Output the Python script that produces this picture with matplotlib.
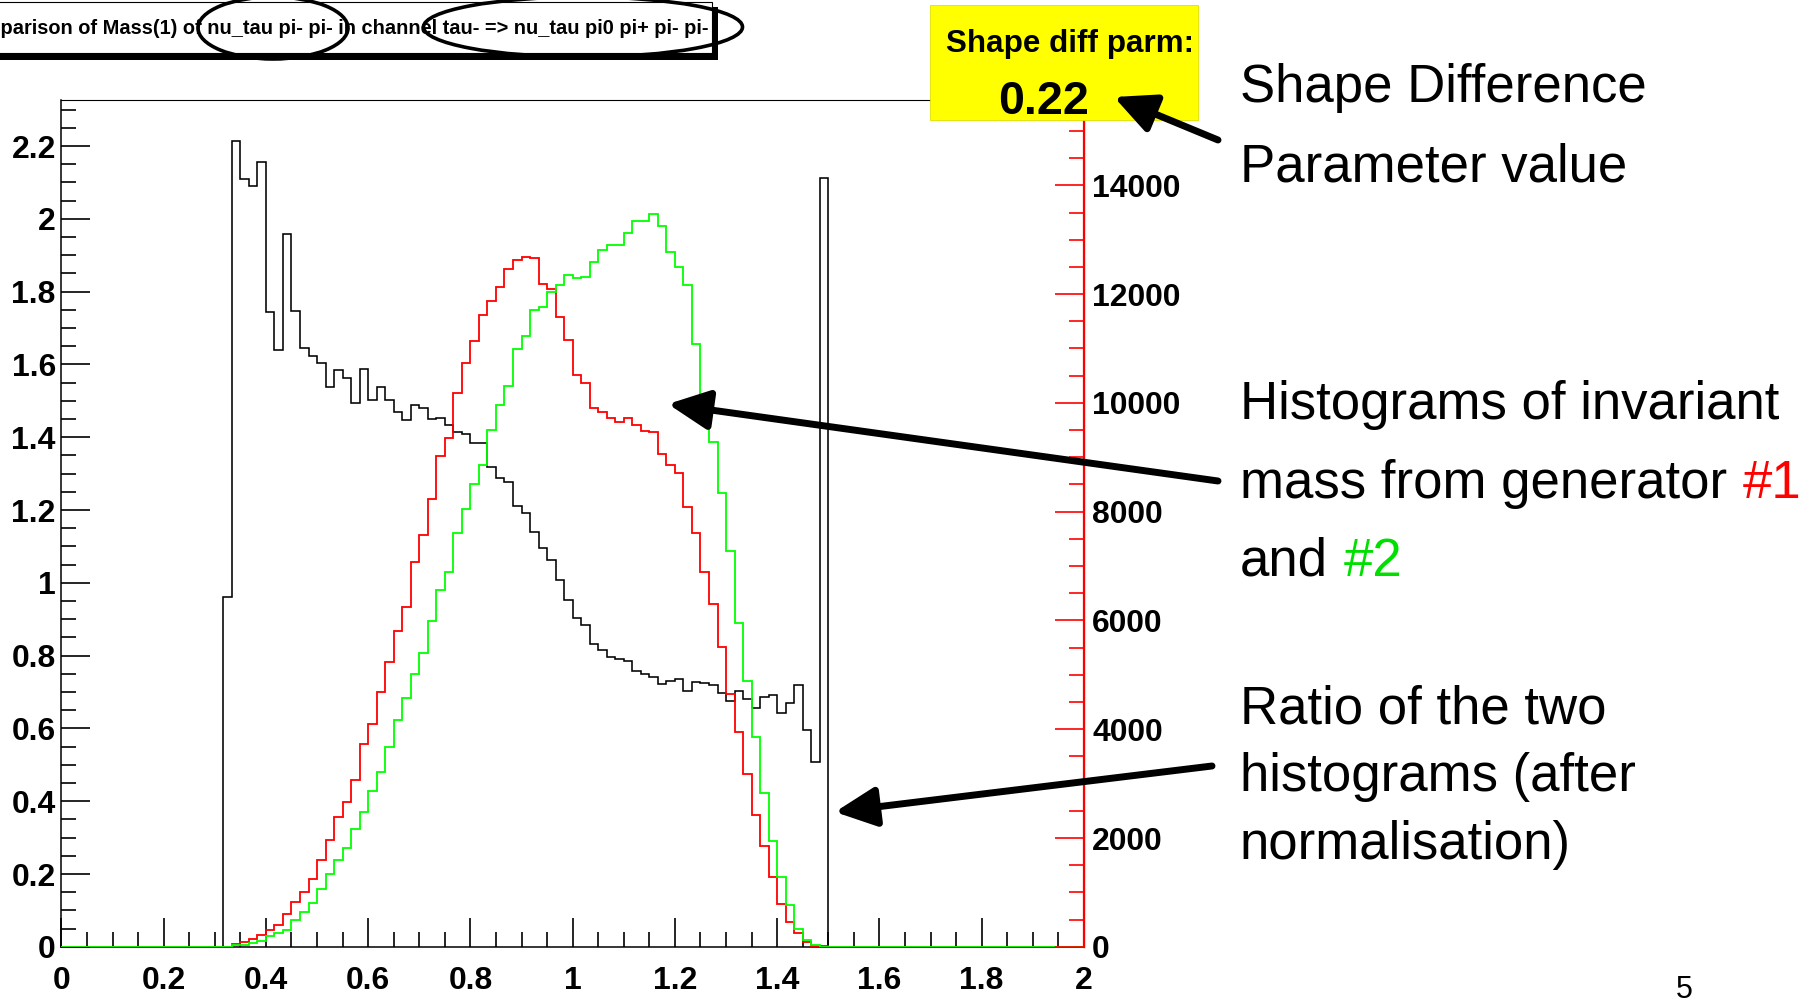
import numpy as np
import matplotlib
matplotlib.use('Agg')
import matplotlib.pyplot as plt
from matplotlib import font_manager
from matplotlib.patches import Ellipse, Rectangle, FancyArrowPatch, ArrowStyle
from matplotlib.ticker import MultipleLocator, FixedLocator, FuncFormatter

# 120 bins from 0 to 2, values below start at bin 19 (x = 0.3167), rest empty
n_bins = 120
first_bin = 19

# ratio of the two normalised histograms (left axis)
ratio = [0.960,
         2.214, 2.109, 2.089, 2.156, 1.745, 1.640, 1.959, 1.748, 1.644, 1.622,
         1.605, 1.539, 1.585, 1.562, 1.494, 1.588, 1.503, 1.537, 1.503, 1.469,
         1.446, 1.488, 1.480, 1.449, 1.452, 1.433, 1.414, 1.410, 1.385, 1.385,
         1.319, 1.289, 1.277, 1.210, 1.191, 1.141, 1.095, 1.063, 1.008, 0.953,
         0.903, 0.883, 0.832, 0.816, 0.796, 0.791, 0.786, 0.759, 0.750, 0.741,
         0.721, 0.730, 0.737, 0.704, 0.728, 0.724, 0.719, 0.697, 0.676, 0.704,
         0.681, 0.655, 0.687, 0.692, 0.642, 0.671, 0.719, 0.596, 0.507, 2.111]

# generator #1 (red), entries per bin (right axis)
gen1 = [5,
        51, 94, 137, 217, 309, 401, 597, 830, 1013, 1247,
        1596, 1964, 2392, 2668, 3067, 3729, 4096, 4679, 5242, 5806,
        6253, 7075, 7578, 8237, 9024, 9363, 10177, 10740, 11135, 11616,
        11870, 12128, 12456, 12620, 12683, 12664, 12192, 12098, 11573, 11163,
        10506, 10360, 9910, 9839, 9717, 9655, 9717, 9594, 9484, 9460,
        9061, 8858, 8705, 8092, 7602, 6897, 6300, 5518, 4648, 3955,
        3177, 2423, 1853, 1278, 787, 461, 259, 90, 20, 8]

# generator #2 (green)
gen2 = [5,
        24, 40, 64, 100, 195, 260, 312, 485, 640, 805,
        1055, 1340, 1596, 1822, 2160, 2473, 2870, 3208, 3679, 4170,
        4569, 5016, 5396, 5990, 6555, 6890, 7610, 8044, 8509, 8853,
        9502, 9962, 10311, 10991, 11230, 11708, 11758, 12045, 12168, 12352,
        12291, 12321, 12596, 12811, 12903, 12903, 13118, 13336, 13341, 13469,
        13259, 12780, 12493, 12168, 11083, 10084, 9276, 8338, 7283, 5955,
        4892, 3863, 2833, 1951, 1278, 769, 322, 130, 35, 4]

title = 'Comparison of Mass(1) of nu_tau pi- pi- in channel tau- => nu_tau pi0 pi+ pi- pi-'
shape_label = 'Shape diff parm:'
shape_value = '0.22'


def full(vals):
    out = np.zeros(n_bins)
    out[first_bin:first_bin + len(vals)] = vals
    return out


edges = np.linspace(0, 2, n_bins + 1)

names = {f.name for f in font_manager.fontManager.ttflist}
if 'Liberation Sans Narrow' in names:
    root_font, k = 'Liberation Sans Narrow', 1.0
else:
    root_font, k = 'Liberation Sans', 0.82
plt.rcParams['font.family'] = [root_font, 'DejaVu Sans']
plt.rcParams['font.weight'] = 'bold'

W, H = 1806, 1002
fig = plt.figure(figsize=(W / 100, H / 100), dpi=100)
fig.patch.set_facecolor('white')

x0, x1, y0, y1 = 61.4, 1083.9, 946.8, 100.2
ax = fig.add_axes([x0 / W, 1 - y0 / H, (x1 - x0) / W, (y0 - y1) / H])
ax.stairs(full(ratio), edges, color='black', lw=1.15)
ax.set_xlim(0, 2)
ax.set_ylim(0, 2.326)

fmt = FuncFormatter(lambda v, p: f'{v:g}')
ax.xaxis.set_major_locator(MultipleLocator(0.2))
ax.xaxis.set_minor_locator(MultipleLocator(0.05))
ax.yaxis.set_major_locator(MultipleLocator(0.2))
ax.yaxis.set_minor_locator(MultipleLocator(0.05))
ax.xaxis.set_major_formatter(fmt)
ax.yaxis.set_major_formatter(fmt)
ax.tick_params(which='both', direction='in', top=False, right=False,
               width=1.2, color='black')
ax.tick_params(which='major', length=21, labelsize=28 * k)
ax.tick_params(which='minor', length=10.5)
ax.tick_params(axis='x', which='major', pad=14)
ax.tick_params(axis='y', which='major', pad=4)
for s in ['left', 'bottom']:
    ax.spines[s].set_linewidth(1.1)
ax.spines['top'].set_linewidth(0.8)
ax.spines['right'].set_linewidth(0.8)

ax2 = ax.twinx()
ax2.stairs(full(gen1), edges, color='#ff0000', lw=1.3)
ax2.stairs(full(gen2), edges, color='#00ff00', lw=1.3)
ax2.set_ylim(0, 15565)
ax2.yaxis.set_major_locator(MultipleLocator(2000))
ax2.yaxis.set_minor_locator(FixedLocator(np.arange(0, 15001, 500)))
ax2.yaxis.set_major_formatter(fmt)
ax2.tick_params(which='both', direction='in', color='#ff0000', width=1.2,
                labelcolor='black')
ax2.tick_params(which='major', length=21, labelsize=28 * k, pad=6)
ax2.tick_params(which='minor', length=10.5)
for s in ['left', 'top', 'bottom']:
    ax2.spines[s].set_visible(False)
ax2.spines['right'].set_color('#ff0000')
ax2.spines['right'].set_linewidth(1.6)
ax2.spines['right'].set_bounds(0, 15200)

# overlay in pixel coordinates for the slide annotations
ov = fig.add_axes([0, 0, 1, 1], zorder=10)
ov.set_xlim(0, W)
ov.set_ylim(H, 0)
ov.axis('off')
ov.patch.set_alpha(0)

# title pave with shadow (its left part runs off the slide, as in the original)
ov.add_patch(Rectangle((-4, 7), 722, 53, facecolor='black', edgecolor='none'))
ov.add_patch(Rectangle((-10, 2), 722, 51, facecolor='white', edgecolor='black', lw=0.8))
ov.text(709, 28, title, ha='right', va='center', fontsize=17.6 * k,
        fontweight='bold', color='black')
ov.add_patch(Ellipse((273, 28), 150, 62, fill=False, edgecolor='black', lw=2.6))
ov.add_patch(Ellipse((583, 27), 319, 60, fill=False, edgecolor='black', lw=2.6))

# shape difference box
ov.add_patch(Rectangle((930, 5), 268, 115, facecolor='#ffff00', edgecolor='#e0e000', lw=0.6))
ov.text(1194, 52, shape_label, ha='right', va='baseline', fontsize=27.5 * k, fontweight='bold')
ov.text(1044, 114, shape_value, ha='center', va='baseline', fontsize=41 * k, fontweight='bold')

# arrows
arrows = [((1218, 140), (1114, 97)),
          ((1218, 481), (668, 404)),
          ((1212, 766), (835, 812))]
for tail, tip in arrows:
    ov.add_patch(FancyArrowPatch(tail, tip, arrowstyle=ArrowStyle('-|>', head_length=25, head_width=12),
                                 mutation_scale=1, color='black', lw=5, shrinkA=0, shrinkB=0))

# slide text
tkw = dict(fontsize=38, family=['Liberation Sans', 'DejaVu Sans'], fontweight='normal',
           va='baseline', ha='left', color='black')
lines = [('Shape Difference', 102), ('Parameter value', 181),
         ('Histograms of invariant', 419), ('Ratio of the two', 723),
         ('histograms (after', 791), ('normalisation)', 859)]
for s, yb in lines:
    ov.text(1240, yb, s, **tkw)
t1 = ov.text(1240, 498, 'mass from generator', **tkw)
ov.annotate('#1', xy=(1, 0), xycoords=t1, xytext=(11, 0), textcoords='offset points',
            **{**tkw, 'color': '#ff0000', 'va': 'bottom'})
t2 = ov.text(1240, 576, 'and', **tkw)
ov.annotate('#2', xy=(1, 0), xycoords=t2, xytext=(11, 0), textcoords='offset points',
            **{**tkw, 'color': '#00e000', 'va': 'bottom'})
ov.text(1684, 998, '5', fontsize=22, family=['Liberation Sans', 'DejaVu Sans'],
        fontweight='normal', ha='center', va='baseline')

fig.savefig('out.png', dpi=100, facecolor='white')
